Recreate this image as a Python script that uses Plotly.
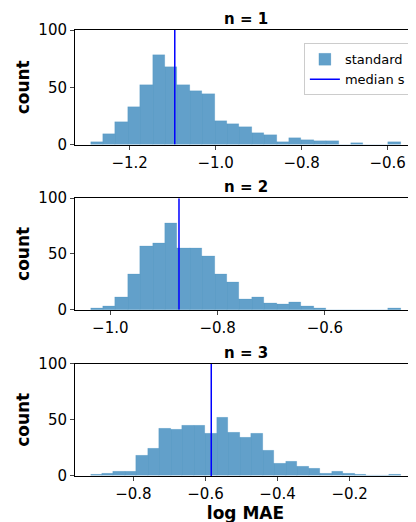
import plotly.graph_objects as go

# histogram counts per panel (bins start at lo, fixed width)
counts_1 = [2, 9, 20, 33, 52, 78, 68, 52, 47, 44, 21, 18, 15, 10, 8, 2, 6, 4, 3, 3, 0, 1, 0, 0, 2]
lo_1, w_1, med_1 = -1.291, 0.02884, -1.095
counts_2 = [1, 3, 11, 32, 57, 60, 78, 55, 55, 48, 32, 25, 9, 11, 6, 5, 7, 3, 1, 0, 0, 0, 0, 0, 1]
lo_2, w_2, med_2 = -1.037, 0.02312, -0.872
counts_3 = [1, 2, 4, 4, 18, 24, 42, 41, 45, 45, 38, 52, 39, 34, 38, 23, 11, 13, 8, 7, 2, 4, 2, 1, 0, 0, 1]
lo_3, w_3, med_3 = -0.919, 0.03185, -0.584
titles = ["n = 1", "n = 2", "n = 3"]

panels = [(counts_1, lo_1, w_1, med_1), (counts_2, lo_2, w_2, med_2), (counts_3, lo_3, w_3, med_3)]
domains = [[0.743, 1.0], [0.373, 0.623], [0.0, 0.252]]

fig = go.Figure()
layout = {}
for i, (c, lo, w, med) in enumerate(panels):
    k = "" if i == 0 else str(i + 1)
    centers = [lo + w * (j + 0.5) for j in range(len(c))]
    fig.add_trace(go.Bar(x=centers, y=c, width=w, marker=dict(color="rgba(31,119,180,0.7)", line=dict(width=0.5, color="rgba(31,119,180,0.3)")),
                         name="standard", showlegend=(i == 0), xaxis="x" + k, yaxis="y" + k))
    fig.add_trace(go.Scatter(x=[med, med], y=[0, 100], mode="lines", line=dict(color="blue", width=1.5),
                             name="median s", showlegend=(i == 0), xaxis="x" + k, yaxis="y" + k))
    hi = lo + w * len(c)
    m = 0.05 * (hi - lo)
    layout["xaxis" + k] = dict(domain=[0, 1], anchor="y" + k, range=[lo - m, hi + m], dtick=0.2, tickformat=".1f",
                               ticks="outside", ticklen=4, showgrid=False, zeroline=False,
                               showline=True, mirror=True, linecolor="black",
                               title=dict(text="<b>log MAE</b>", font=dict(size=17), standoff=2) if i == 2 else None)
    layout["yaxis" + k] = dict(domain=domains[i], anchor="x" + k, range=[0, 100], tickvals=[0, 50, 100],
                               ticks="outside", ticklen=4, showgrid=False, zeroline=False,
                               showline=True, mirror=True, linecolor="black",
                               title=dict(text="<b>count</b>", font=dict(size=17), standoff=4))

fig.update_layout(**layout)
for i, t in enumerate(titles):
    fig.add_annotation(text="<b>" + t + "</b>", xref="paper", yref="paper", x=0.5, y=domains[i][1],
                       yanchor="bottom", showarrow=False, font=dict(size=15), yshift=0)

fig.update_layout(
    width=416, height=522, bargap=0, plot_bgcolor="white", paper_bgcolor="white",
    margin=dict(l=67, r=8, t=22, b=54),
    font=dict(family="DejaVu Sans", size=15, color="black"),
    legend=dict(x=0.985, y=0.97, xanchor="right", yanchor="top", bordercolor="#cccccc", borderwidth=1,
                font=dict(size=13), bgcolor="white", tracegroupgap=0),
)
fig.write_html("out.html")
